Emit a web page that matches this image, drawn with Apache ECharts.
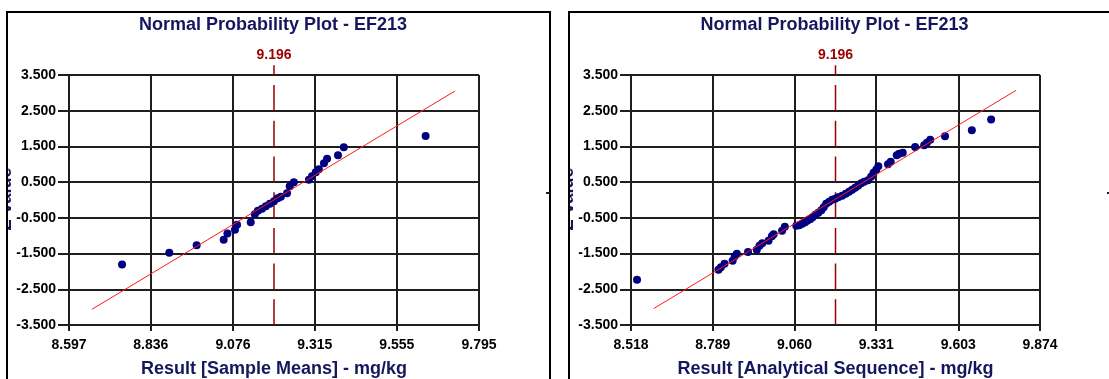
<!DOCTYPE html>
<html><head><meta charset="utf-8">
<script src="https://cdn.jsdelivr.net/npm/echarts@6/dist/echarts.min.js"></script>
<style>html,body{margin:0;padding:0;background:#fff}#c{width:1109px;height:379px}</style>
</head><body><div id="c"></div>
<script>
const chartTitles = ['Normal Probability Plot - EF213', 'Normal Probability Plot - EF213'];
const xAxisNames = ['Result [Sample Means] - mg/kg', 'Result [Analytical Sequence] - mg/kg'];
const yAxisName = 'Z-value';
const meanValue = 9.196;
const meanLineZ = [-3.5, 3.77];
const yTicks = [-3.5, -2.5, -1.5, -0.5, 0.5, 1.5, 2.5, 3.5];
const leftXTicks = [8.597, 8.836, 9.076, 9.315, 9.555, 9.795];
const rightXTicks = [8.518, 8.789, 9.060, 9.331, 9.603, 9.874];

const leftPoints = [
  [8.752, -1.809], [8.890, -1.479], [8.970, -1.269], [9.049, -1.115], [9.060, -0.941],
  [9.082, -0.835], [9.088, -0.695], [9.128, -0.625], [9.140, -0.401], [9.149, -0.303],
  [9.161, -0.247], [9.172, -0.177], [9.184, -0.107], [9.196, -0.037], [9.207, 0.047],
  [9.216, 0.089], [9.234, 0.187], [9.242, 0.383], [9.254, 0.495], [9.298, 0.565],
  [9.307, 0.663], [9.318, 0.775], [9.327, 0.859], [9.342, 1.027], [9.351, 1.153],
  [9.383, 1.251], [9.400, 1.475], [9.639, 1.792]
];
const rightPoints = [
  [8.538, -2.235], [8.808, -1.955], [8.816, -1.885], [8.828, -1.787], [8.855, -1.703],
  [8.862, -1.577], [8.869, -1.507], [8.906, -1.457], [8.935, -1.395], [8.944, -1.283],
  [8.953, -1.213], [8.974, -1.143], [8.985, -1.017], [8.991, -0.961], [9.019, -0.863],
  [9.028, -0.751], [9.066, -0.723], [9.076, -0.709], [9.086, -0.667], [9.095, -0.625],
  [9.102, -0.583], [9.112, -0.541], [9.120, -0.485], [9.129, -0.415], [9.139, -0.359],
  [9.149, -0.289], [9.157, -0.205], [9.165, -0.107], [9.175, -0.051], [9.185, 0.005],
  [9.195, 0.033], [9.205, 0.075], [9.218, 0.117], [9.230, 0.173], [9.241, 0.229],
  [9.251, 0.285], [9.261, 0.341], [9.271, 0.397], [9.281, 0.467], [9.291, 0.509],
  [9.304, 0.551], [9.314, 0.649], [9.322, 0.761], [9.331, 0.845], [9.338, 0.943],
  [9.370, 0.999], [9.379, 1.069], [9.399, 1.251], [9.407, 1.293], [9.419, 1.321],
  [9.460, 1.484], [9.490, 1.531], [9.499, 1.601], [9.510, 1.685], [9.559, 1.783],
  [9.648, 1.951], [9.712, 2.251]
];
const leftFitLine = [[8.664, -3.061], [9.725, 3.052]];
const rightFitLine = [[8.593, -3.041], [9.795, 3.072]];

const FONT = "'Liberation Sans', Arial, sans-serif";
const NAVY = '#16165e';
const GRID_COLOR = '#1e1e1e';
const DARKRED = '#990000';

const grids = [
  { left: 69, top: 75, width: 410, height: 250, outerBoundsMode: 'none', containLabel: false },
  { left: 631, top: 75, width: 409, height: 250, outerBoundsMode: 'none', containLabel: false }
];

function xAxisCfg(i, ticks) {
  return {
    gridIndex: i, type: 'value', min: ticks[0], max: ticks[ticks.length - 1],
    name: xAxisNames[i], nameLocation: 'middle', nameGap: 35, nameMoveOverlap: false,
    nameTextStyle: { color: NAVY, fontSize: 18, fontWeight: 'bold', fontFamily: FONT },
    axisLine: { show: true, onZero: false, lineStyle: { color: GRID_COLOR, width: 2 } },
    axisTick: { show: true, customValues: ticks, length: 6, lineStyle: { color: GRID_COLOR, width: 2 } },
    axisLabel: { customValues: ticks, formatter: v => v.toFixed(3), margin: 13, color: '#000', fontWeight: 'bold', fontSize: 14, fontFamily: FONT },
    splitLine: { show: true, lineStyle: { color: GRID_COLOR, width: 2 } }
  };
}
function yAxisCfg(i) {
  return {
    gridIndex: i, type: 'value', min: yTicks[0], max: yTicks[yTicks.length - 1],
    axisLine: { show: true, onZero: false, lineStyle: { color: GRID_COLOR, width: 2 } },
    axisTick: { show: true, customValues: yTicks, length: 11, lineStyle: { color: GRID_COLOR, width: 2 } },
    axisLabel: { customValues: yTicks, formatter: v => v.toFixed(3), margin: 13, color: '#000', fontWeight: 'bold', fontSize: 14, fontFamily: FONT },
    splitLine: { show: true, lineStyle: { color: GRID_COLOR, width: 2 } }
  };
}
function seriesFor(i, pts, fit) {
  return [
    { type: 'line', xAxisIndex: i, yAxisIndex: i, data: meanLineZ.map(z => [meanValue, z]),
      clip: false, symbol: 'none', silent: true, z: 2,
      lineStyle: { color: DARKRED, width: 1.5, type: [25.7, 10] } },
    { type: 'scatter', xAxisIndex: i, yAxisIndex: i, data: pts, symbolSize: 8,
      itemStyle: { color: '#000080', opacity: 1 }, z: 3 },
    { type: 'line', xAxisIndex: i, yAxisIndex: i, data: fit, symbol: 'none', silent: true, z: 4,
      lineStyle: { color: '#ff1a1a', width: 1 } }
  ];
}

const chart = echarts.init(document.getElementById('c'));
chart.setOption({
  animation: false,
  backgroundColor: '#fff',
  grid: grids,
  xAxis: [xAxisCfg(0, leftXTicks), xAxisCfg(1, rightXTicks)],
  yAxis: [yAxisCfg(0), yAxisCfg(1)],
  series: [...seriesFor(0, leftPoints, leftFitLine), ...seriesFor(1, rightPoints, rightFitLine)]
});

const gfx = [];
[0, 1].forEach(i => {
  const top = chart.convertToPixel({ gridIndex: i }, [meanValue, meanLineZ[1]]);
  const g = grids[i];
  gfx.push({ type: 'text', z: 50, x: top[0], y: top[1] - 10,
    style: { text: meanValue.toFixed(3), fill: DARKRED, font: 'bold 14px ' + FONT, textAlign: 'center', textVerticalAlign: 'middle' } });
  gfx.push({ type: 'text', z: 50, x: g.left + g.width / 2 - 1, y: 25,
    style: { text: chartTitles[i], fill: NAVY, font: 'bold 18px ' + FONT, textAlign: 'center', textVerticalAlign: 'middle' } });
  gfx.push({ type: 'text', z: 50, x: g.left - 54, y: g.top + g.height / 2 - 1, rotation: Math.PI / 2,
    style: { text: yAxisName, fill: NAVY, font: 'bold 18px ' + FONT, textAlign: 'center', textVerticalAlign: 'bottom' } });
});
gfx.push({ type: 'rect', z: 100, shape: { x: 0, y: 0, width: 6, height: 379 }, style: { fill: '#fff' } });
gfx.push({ type: 'rect', z: 100, shape: { x: 552, y: 0, width: 16, height: 379 }, style: { fill: '#fff' } });
gfx.push({ type: 'rect', z: 101, shape: { x: 7, y: 12, width: 543, height: 400 }, style: { fill: 'none', stroke: '#000', lineWidth: 2 } });
gfx.push({ type: 'rect', z: 101, shape: { x: 569, y: 12, width: 543, height: 400 }, style: { fill: 'none', stroke: '#000', lineWidth: 2 } });
gfx.push({ type: 'rect', z: 101, shape: { x: 546, y: 192, width: 3, height: 2 }, style: { fill: '#222' } });
gfx.push({ type: 'rect', z: 101, shape: { x: 1107, y: 192, width: 2, height: 2 }, style: { fill: '#223' } });
chart.setOption({ graphic: gfx });
</script>
</body></html>
